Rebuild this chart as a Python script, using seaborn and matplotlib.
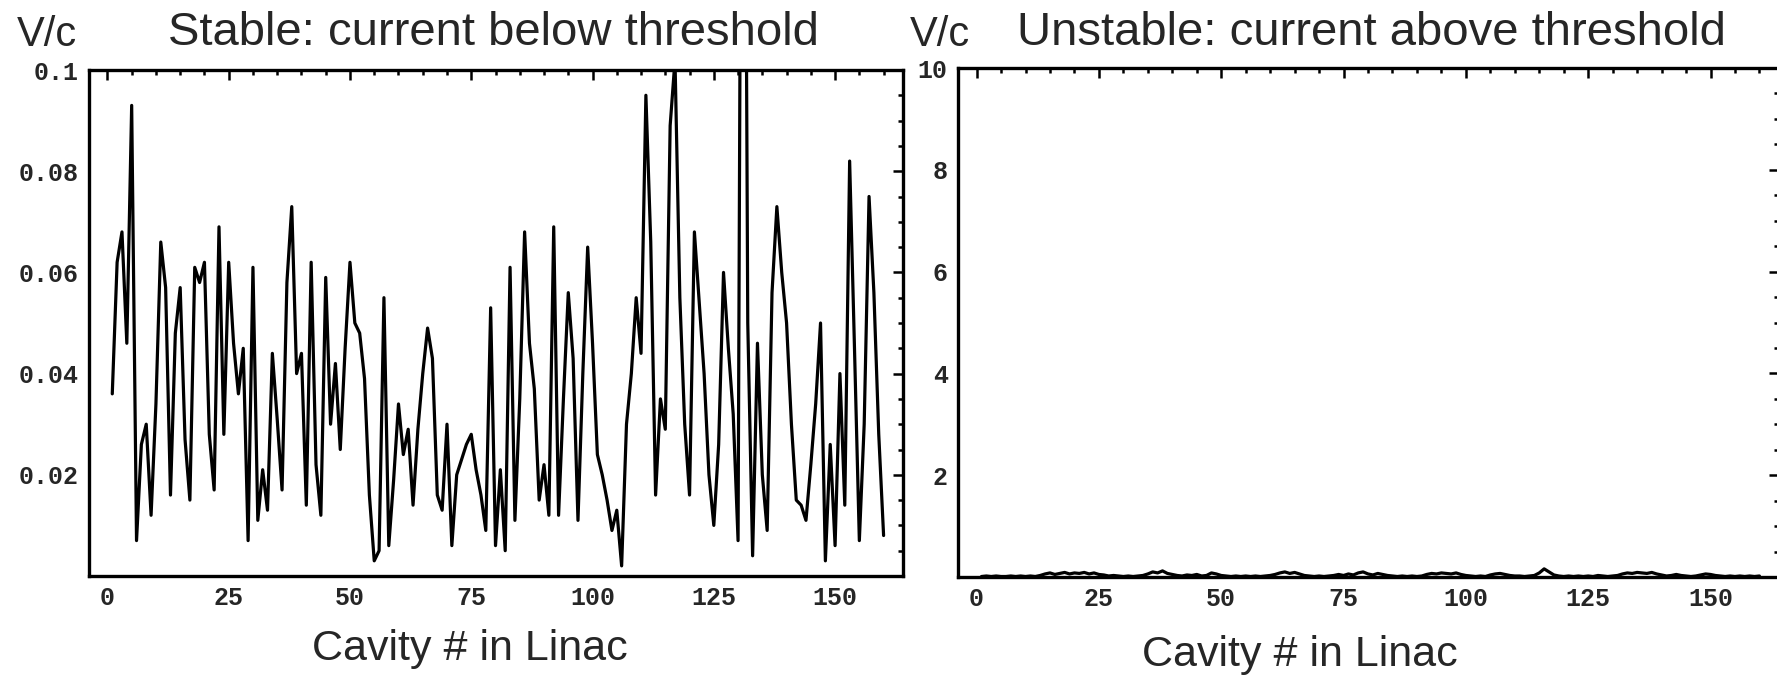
import numpy as np
import pandas as pd
import matplotlib
matplotlib.use("Agg")
import matplotlib.pyplot as plt
import seaborn as sns
from matplotlib.ticker import MultipleLocator, FixedLocator

# ---------------- data ----------------
stable = [
    0.036, 0.062, 0.068, 0.046, 0.093, 0.007, 0.026, 0.030, 0.012, 0.034,
    0.066, 0.057, 0.016, 0.048, 0.057, 0.027, 0.015, 0.061, 0.058, 0.062,
    0.028, 0.017, 0.069, 0.028, 0.062, 0.046, 0.036, 0.045, 0.007, 0.061,
    0.011, 0.021, 0.013, 0.044, 0.031, 0.017, 0.058, 0.073, 0.040, 0.044,
    0.014, 0.062, 0.022, 0.012, 0.059, 0.030, 0.042, 0.025, 0.045, 0.062,
    0.050, 0.048, 0.039, 0.016, 0.003, 0.005, 0.055, 0.006, 0.019, 0.034,
    0.024, 0.029, 0.014, 0.029, 0.040, 0.049, 0.043, 0.016, 0.013, 0.030,
    0.006, 0.020, 0.023, 0.026, 0.028, 0.021, 0.016, 0.009, 0.053, 0.006,
    0.021, 0.005, 0.061, 0.011, 0.035, 0.068, 0.046, 0.037, 0.015, 0.022,
    0.012, 0.069, 0.012, 0.035, 0.056, 0.043, 0.011, 0.040, 0.065, 0.046,
    0.024, 0.020, 0.015, 0.009, 0.013, 0.002, 0.030, 0.040, 0.055, 0.044,
    0.095, 0.066, 0.016, 0.035, 0.029, 0.089, 0.102, 0.055, 0.030, 0.016,
    0.068, 0.054, 0.040, 0.020, 0.010, 0.026, 0.060, 0.045, 0.032, 0.007,
    0.250, 0.050, 0.004, 0.046, 0.020, 0.009, 0.056, 0.073, 0.060, 0.050,
    0.030, 0.015, 0.014, 0.011, 0.022, 0.034, 0.050, 0.003, 0.026, 0.006,
    0.040, 0.014, 0.082, 0.045, 0.007, 0.030, 0.075, 0.056, 0.028, 0.008,
]

unstable = [
    0.01, 0.02, 0.01, 0.02, 0.01, 0.01, 0.02, 0.01, 0.02, 0.01,
    0.02, 0.01, 0.03, 0.06, 0.08, 0.05, 0.07, 0.09, 0.06, 0.08,
    0.07, 0.09, 0.06, 0.08, 0.05, 0.04, 0.02, 0.03, 0.02, 0.01,
    0.02, 0.01, 0.02, 0.03, 0.06, 0.10, 0.08, 0.12, 0.07, 0.05,
    0.03, 0.02, 0.04, 0.03, 0.05, 0.02, 0.03, 0.08, 0.06, 0.03,
    0.02, 0.01, 0.02, 0.01, 0.02, 0.01, 0.02, 0.01, 0.02, 0.03,
    0.05, 0.08, 0.10, 0.07, 0.09, 0.06, 0.03, 0.02, 0.01, 0.02,
    0.01, 0.02, 0.03, 0.05, 0.03, 0.06, 0.04, 0.08, 0.10, 0.06,
    0.04, 0.07, 0.05, 0.03, 0.02, 0.01, 0.02, 0.01, 0.02, 0.01,
    0.02, 0.05, 0.07, 0.06, 0.08, 0.07, 0.06, 0.08, 0.05, 0.03,
    0.02, 0.01, 0.02, 0.01, 0.04, 0.06, 0.07, 0.05, 0.03, 0.02,
    0.02, 0.01, 0.02, 0.03, 0.08, 0.16, 0.10, 0.04, 0.02, 0.01,
    0.02, 0.01, 0.02, 0.01, 0.02, 0.01, 0.03, 0.02, 0.01, 0.02,
    0.03, 0.06, 0.08, 0.07, 0.09, 0.08, 0.07, 0.09, 0.06, 0.04,
    0.02, 0.03, 0.05, 0.03, 0.02, 0.01, 0.02, 0.04, 0.06, 0.05,
    0.03, 0.02, 0.01, 0.02, 0.01, 0.02, 0.01, 0.02, 0.01, 0.02,
]

cavity_stable = list(range(1, len(stable) + 1))
cavity_unstable = list(range(1, len(unstable) + 1))

x_ticks = [0, 25, 50, 75, 100, 125, 150]
x_ticklabels = ["0", "25", "50", "75", "100", "125", "150"]
stable_yticks = [0.02, 0.04, 0.06, 0.08, 0.1]
stable_ylabels = ["0.02", "0.04", "0.06", "0.08", "0.1"]
unstable_yticks = [2, 4, 6, 8, 10]
unstable_ylabels = ["2", "4", "6", "8", "10"]
titles = ["Stable: current below threshold", "Unstable: current above threshold"]
xlabel_text = "Cavity # in Linac"
ylabel_text = "V/c"

# ---------------- style ----------------
sns.set_style("white")
plt.rcParams['font.family'] = ['Liberation Sans', 'DejaVu Sans']

W, H = 1777, 677
fig = plt.figure(figsize=(W / 100, H / 100), dpi=100)

def fx(px):
    return px / W

def fy(py):
    return 1 - py / H

ax1 = fig.add_axes([fx(88.5), fy(576), fx(903 - 88.5), (576 - 70) / H])
ax2 = fig.add_axes([fx(957.5), fy(577), fx(1779 - 957.5), (577 - 68) / H])

sns.lineplot(x=cavity_stable, y=stable, ax=ax1, color="black", linewidth=2.3)
sns.lineplot(x=cavity_unstable, y=unstable, ax=ax2, color="black", linewidth=2.3)

ax1.set_ylim(0, 0.1)
ax2.set_ylim(0, 10)

for ax, yt, yl, ymin in [(ax1, stable_yticks, stable_ylabels, 0.005),
                         (ax2, unstable_yticks, unstable_ylabels, 0.5)]:
    ax.set_xlim(-3.9, 164)
    ax.xaxis.set_major_locator(FixedLocator(x_ticks))
    ax.set_xticklabels(x_ticklabels)
    ax.xaxis.set_minor_locator(MultipleLocator(5))
    ax.yaxis.set_major_locator(FixedLocator(yt))
    ax.set_yticklabels(yl)
    ax.yaxis.set_minor_locator(MultipleLocator(ymin))
    ax.tick_params(which="both", direction="in", top=True, right=True,
                   labeltop=False, labelright=False, color="black", width=1.8)
    ax.tick_params(which="major", length=7, labelsize=18, pad=7)
    ax.tick_params(which="minor", length=3.5)
    for sp in ax.spines.values():
        sp.set_linewidth(2.4)
        sp.set_color("black")
        sp.set_visible(True)
    for lab in ax.get_xticklabels() + ax.get_yticklabels():
        lab.set_fontfamily(["Liberation Mono", "DejaVu Sans Mono"])
        lab.set_fontweight("bold")
    ax.set_xlabel("")
    ax.set_ylabel("")
    ax.grid(False)

# titles, axis labels
fig.text(fx(493), fy(33), titles[0], ha="center", va="center", fontsize=34)
fig.text(fx(1371), fy(33), titles[1], ha="center", va="center", fontsize=34)
fig.text(fx(47), fy(35), ylabel_text, ha="center", va="center", fontsize=30)
fig.text(fx(940), fy(35), ylabel_text, ha="center", va="center", fontsize=30)
fig.text(fx(470), fy(649), xlabel_text, ha="center", va="center", fontsize=31)
fig.text(fx(1300), fy(655), xlabel_text, ha="center", va="center", fontsize=31)

fig.savefig("out.png", dpi=100)
